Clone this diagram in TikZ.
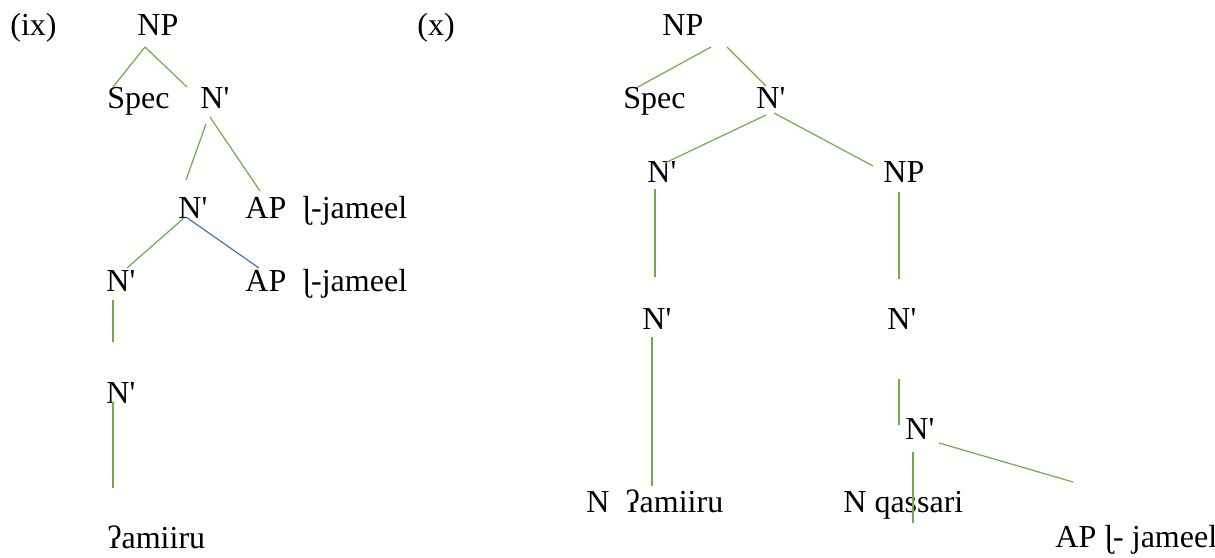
\documentclass[tikz,border=0pt]{standalone}
\usepackage{fontspec}
\setmainfont{Liberation Serif}[Ligatures=TeXOff]
% N-bar label with a straight apostrophe
\newcommand\nbarlabel{N'}
\begin{document}
\begin{tikzpicture}[x=0.5pt,y=-0.5pt,
  lbl/.style={inner sep=0pt, anchor=base west, font=\fontsize{16}{19}\selectfont},
  branch/.style={draw=treegreen, line width=0.6pt},
  branchb/.style={draw=treeblue, line width=0.6pt}]
\definecolor{treegreen}{HTML}{70AD47}
\definecolor{treeblue}{HTML}{4472C4}
\useasboundingbox (0,0) rectangle (1215,557);

% ---- tree (ix) ----
\node[lbl] (ix)   at (10,35)   {(ix)};
\node[lbl] (anp)  at (137,35)  {NP};
\node[lbl] (aspec) at (107,108) {Spec};
\node[lbl] (anb1) at (200,108) {\nbarlabel};
\node[lbl] (anb2) at (178,218) {\nbarlabel};
\node[lbl] (aap1) at (245,218) {AP\ \ ɭ-jameel};
\node[lbl] (anb3) at (106,291) {\nbarlabel};
\node[lbl] (aap2) at (245,291) {AP\ \ ɭ-jameel};
\node[lbl] (anb4) at (106,403) {\nbarlabel};
\node[lbl] (aw)   at (107,548) {ʔamiiru};

\coordinate (a1s) at (145,47);  \coordinate (a1e) at (113,87);
\coordinate (a2s) at (145,47);  \coordinate (a2e) at (187,87);
\coordinate (a3s) at (206,124); \coordinate (a3e) at (186,180);
\coordinate (a4s) at (210,117); \coordinate (a4e) at (260,191);
\coordinate (a5s) at (184,218); \coordinate (a5e) at (127,268);
\coordinate (a6s) at (186,217); \coordinate (a6e) at (259,268);
\coordinate (a7s) at (113,300); \coordinate (a7e) at (113,342);
\coordinate (a8s) at (113,402); \coordinate (a8e) at (113,488);

\draw[branch]  (a1s) -- (a1e);
\draw[branch]  (a2s) -- (a2e);
\draw[branch]  (a3s) -- (a3e);
\draw[branch]  (a4s) -- (a4e);
\draw[branch]  (a5s) -- (a5e);
\draw[branchb] (a6s) -- (a6e);
\draw[branch]  (a7s) -- (a7e);
\draw[branch]  (a8s) -- (a8e);

% ---- tree (x) ----
\node[lbl] (x)    at (417,35)  {(x)};
\node[lbl] (bnp)  at (662,35)  {NP};
\node[lbl] (bspec) at (623,108) {Spec};
\node[lbl] (bnb1) at (756,108) {\nbarlabel};
\node[lbl] (bnb2) at (647,182) {\nbarlabel};
\node[lbl] (bnp2) at (883,182) {NP};
\node[lbl] (bnb3) at (642,329) {\nbarlabel};
\node[lbl] (bnb4) at (887,329) {\nbarlabel};
\node[lbl] (bnb5) at (905,439) {\nbarlabel};
\node[lbl] (bn1)  at (586,512) {N\ \ ʔamiiru};
\node[lbl] (bn2)  at (843,512) {N qassari};
\node[lbl] (bap)  at (1055,547) {AP ɭ- jameel};

\coordinate (b1s) at (711,47);  \coordinate (b1e) at (638,87);
\coordinate (b2s) at (727,47);  \coordinate (b2e) at (766,86);
\coordinate (b3s) at (766,115); \coordinate (b3e) at (665,163);
\coordinate (b4s) at (774,113); \coordinate (b4e) at (873,166);
\coordinate (b5s) at (655,189); \coordinate (b5e) at (655,277);
\coordinate (b6s) at (899,192); \coordinate (b6e) at (899,279);
\coordinate (b7s) at (652,337); \coordinate (b7e) at (652,486);
\coordinate (b8s) at (899,379); \coordinate (b8e) at (899,425);
\coordinate (b9s) at (939,443); \coordinate (b9e) at (1073,482);
\coordinate (b10s) at (913,452); \coordinate (b10e) at (913,523);

\draw[branch] (b1s) -- (b1e);
\draw[branch] (b2s) -- (b2e);
\draw[branch] (b3s) -- (b3e);
\draw[branch] (b4s) -- (b4e);
\draw[branch] (b5s) -- (b5e);
\draw[branch] (b6s) -- (b6e);
\draw[branch] (b7s) -- (b7e);
\draw[branch] (b8s) -- (b8e);
\draw[branch] (b9s) -- (b9e);
\draw[branch] (b10s) -- (b10e);
\end{tikzpicture}
\end{document}
